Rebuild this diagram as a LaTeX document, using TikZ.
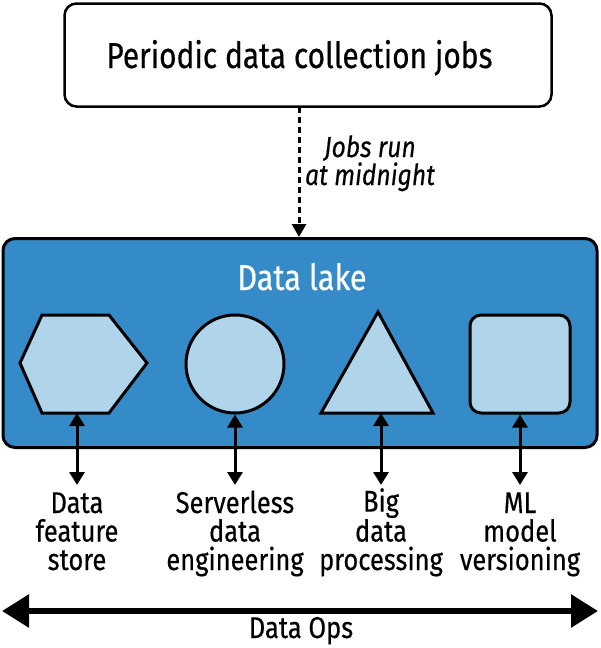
\documentclass[tikz,border=0pt]{standalone}
\usepackage{fontspec}
\IfFontExistsTF{FiraSans-Medium.otf}{%
  \setmainfont{FiraSans-Medium.otf}[ItalicFont=FiraSans-MediumItalic.otf, FakeStretch=0.85]%
  \newfontfamily\titlefont{FiraSans-Medium.otf}[FakeStretch=0.83]%
}{%
  \setmainfont{Fira Sans}[FakeStretch=0.85, FakeBold=0.4]%
  \newfontfamily\titlefont{Fira Sans}[FakeStretch=0.83, FakeBold=0.4]%
}
\usetikzlibrary{arrows.meta}
\definecolor{lake}{HTML}{358BC8}
\definecolor{shp}{HTML}{B0D4EA}
\begin{document}
\begin{tikzpicture}[x=1pt,y=-1pt,
  shapebox/.style={draw=black, fill=shp, line width=3pt},
  lbl/.style={anchor=base, align=center, inner sep=0pt, font=\fontsize{30}{28.5}\selectfont},
  biarrow/.style={line width=3pt, {Triangle[length=13pt,width=15pt]}-{Triangle[length=13pt,width=15pt]}},
]
\useasboundingbox (0,0) rectangle (600,648);
% top box
\node[draw, line width=2.5pt, rounded corners=12pt, minimum width=487pt, minimum height=103pt, inner sep=0pt] (jobs) at (308,55) {};
\node[anchor=base, inner sep=0pt, font=\titlefont\fontsize{36}{38}\selectfont] (title) at (299.5,68) {Periodic data collection jobs};
% lake
\node[draw, fill=lake, line width=3pt, rounded corners=12pt, minimum width=594pt, minimum height=209pt, inner sep=0pt] (lake) at (300,343) {};
\node[anchor=base, inner sep=0pt, text=white, font=\fontsize{36}{40}\selectfont] (laketitle) at (302,290) {Data lake};
% dashed arrow
\coordinate (d1) at (299,107);
\coordinate (d2) at (299,237);
\draw[line width=3pt, dash pattern=on 6pt off 4pt, -{Triangle[length=13pt,width=14pt]}] (d1) -- (d2);
\node[anchor=base, align=center, inner sep=0pt, font=\fontsize{29}{28}\itshape\selectfont] (jobsrun) at (370,185) {Jobs run\\at midnight};
% shapes
\draw[shapebox] (20,363) -- (42,315) -- (109,315) -- (147,363) -- (109,413) -- (42,413) -- cycle;
\coordinate (hexb) at (77,413);
\node[shapebox, circle, minimum size=98pt, inner sep=0pt] (circ) at (235,364) {};
\draw[shapebox] (378,312) -- (433,413) -- (321,413) -- cycle;
\coordinate (trib) at (381,413);
\node[shapebox, rounded corners=11pt, minimum width=100pt, minimum height=98pt, inner sep=0pt] (sq) at (520,364) {};
% labels
\node[lbl] (l1) at (77,570) {Data\\feature\\store};
\node[lbl] (l2) at (235,570) {Serverless\\data\\engineering};
\node[lbl] (l3) at (381,570) {Big\\data\\processing};
\node[lbl] (l4) at (520,570) {ML\\model\\versioning};
\coordinate (a1) at (77,485);
\coordinate (a2) at (235,485);
\coordinate (a3) at (381,485);
\coordinate (a4) at (520,485);
\draw[biarrow] (hexb) -- (a1);
\draw[biarrow] (circ.south) -- (a2);
\draw[biarrow] (trib) -- (a3);
\draw[biarrow] (sq.south) -- (a4);
% data ops
\coordinate (o1) at (2,611);
\coordinate (o2) at (598,611);
\draw[line width=6pt, {Triangle[length=27pt,width=32pt]}-{Triangle[length=27pt,width=32pt]}] (o1) -- (o2);
\node[anchor=base, inner sep=0pt, font=\fontsize{30}{32}\selectfont] (ops) at (301,638) {Data Ops};
\end{tikzpicture}
\end{document}
